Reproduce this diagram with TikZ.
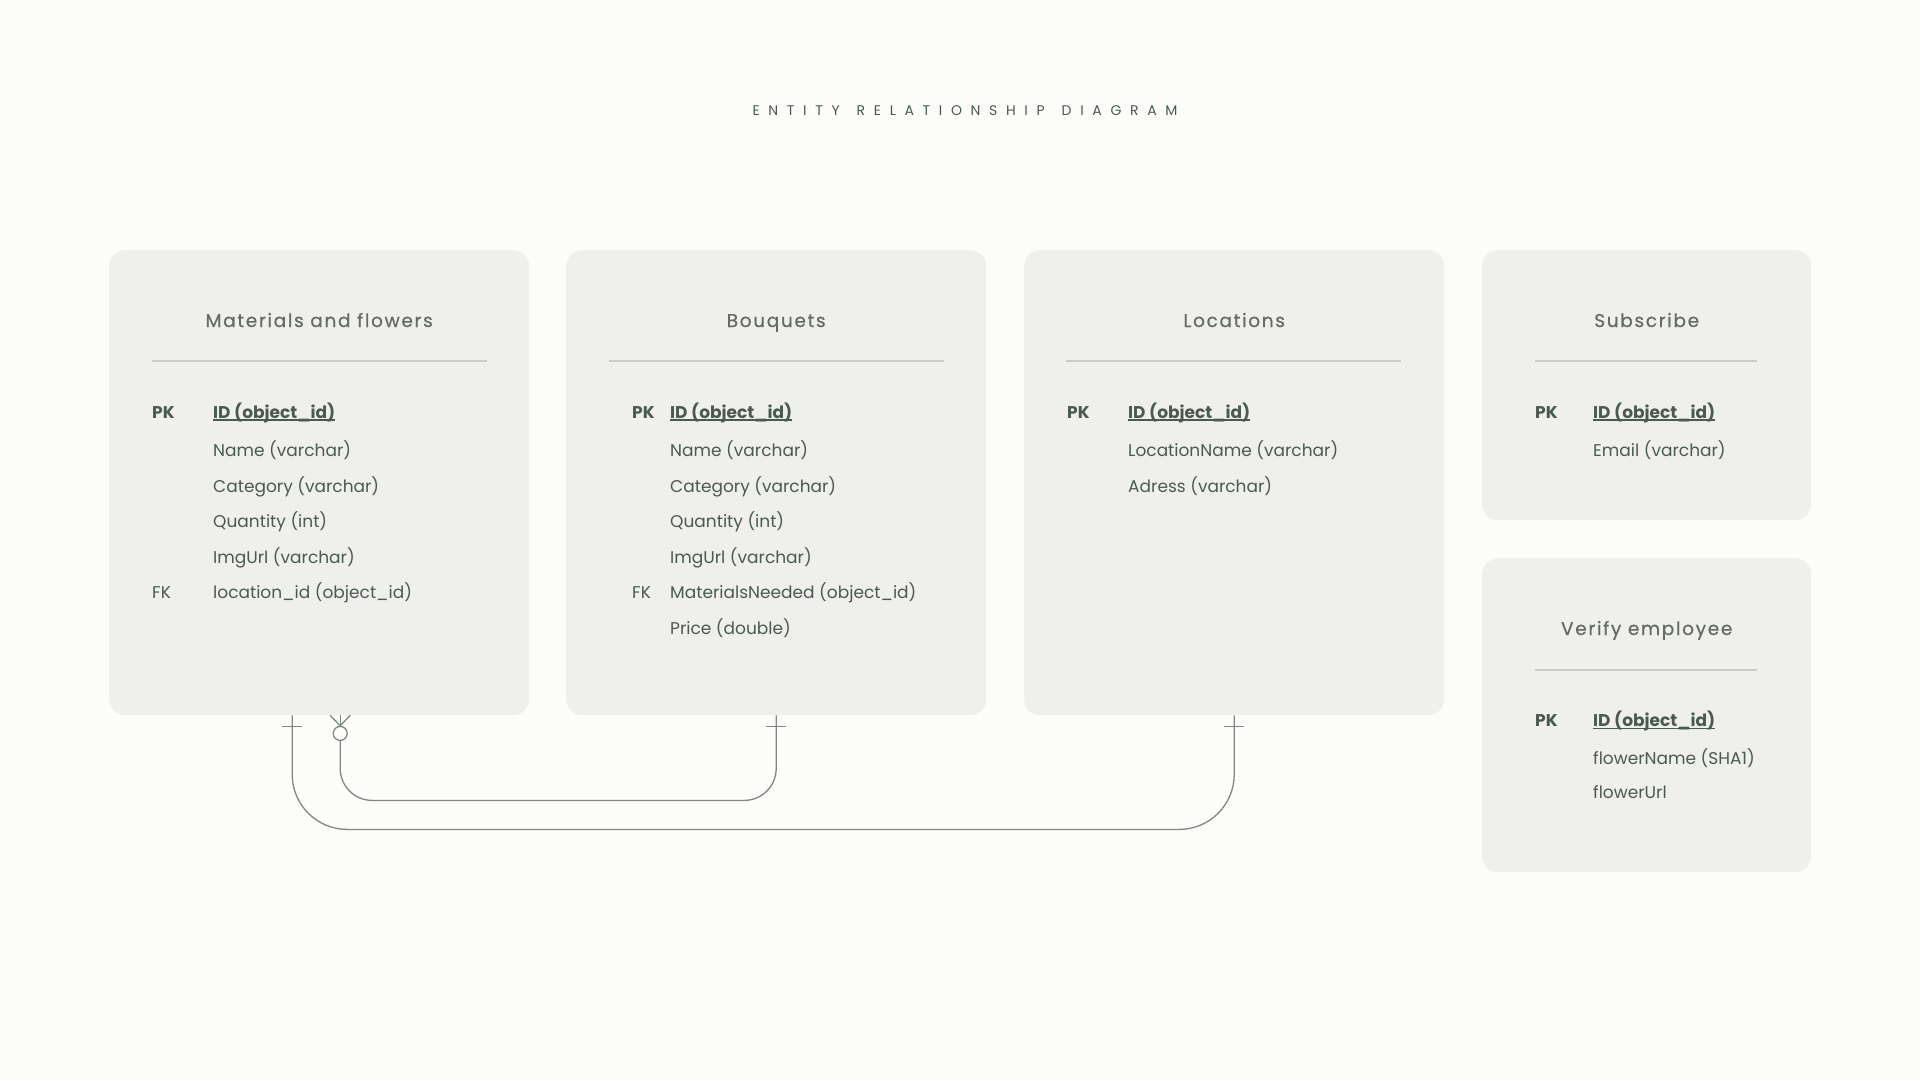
\documentclass[tikz,border=0pt]{standalone}
\usepackage{fontspec}
\setmainfont{Poppins}
\newfontfamily\titlefont[LetterSpace=62]{Poppins}
\newfontfamily\headfont[LetterSpace=9,FakeBold=0.6]{Poppins}
\usetikzlibrary{calc}
\definecolor{bg}{HTML}{FCFCF8}
\definecolor{boxfill}{HTML}{EFF0EB}
\definecolor{txt}{HTML}{4A5B4E}
\definecolor{hdr}{HTML}{656B65}
\definecolor{conn}{HTML}{7E8A81}
\definecolor{sepc}{HTML}{C9CCC6}
\newcommand\keyul[1]{\setbox0\hbox{#1}\rlap{\color{txt}\rule[-2.5pt]{\wd0}{1.3pt}}\box0}
\newcommand\tsp{\hspace{17pt}}
\begin{document}
\begin{tikzpicture}[x=1pt,y=-1pt,
  entity/.style={fill=boxfill, rounded corners=16pt, draw=none, inner sep=0pt, anchor=north west},
  hdrtext/.style={anchor=base, font=\headfont\fontsize{18.5}{22}\selectfont, text=hdr, inner sep=0pt},
  fld/.style={anchor=base west, font=\fontsize{17}{21}\selectfont, text=txt, inner sep=0pt},
  keytag/.style={anchor=base west, font=\bfseries\fontsize{17}{21}\selectfont, text=txt, inner sep=0pt},
  fktag/.style={anchor=base west, font=\fontsize{17}{21}\selectfont, text=txt, inner sep=0pt},
  sepline/.style={draw=sepc, line width=1.2pt},
  conn/.style={draw=conn, line width=1.3pt}
]
\fill[bg] (0,0) rectangle (1920,1080);
\useasboundingbox (0,0) rectangle (1920,1080);

\node[anchor=base, font=\titlefont\fontsize{14}{17}\selectfont, text=txt, inner sep=0pt] (title) at (965,115) {ENTITY\tsp RELATIONSHIP\tsp DIAGRAM};

% entity boxes
\node[entity, minimum width=420, minimum height=465] (mat) at (109,250) {};
\node[entity, minimum width=420, minimum height=465] (bq) at (566,250) {};
\node[entity, minimum width=420, minimum height=465] (loc) at (1024,250) {};
\node[entity, minimum width=329, minimum height=270] (sub) at (1482,250) {};
\node[entity, minimum width=329, minimum height=314] (ver) at (1482,558) {};

% headers
\node[hdrtext] (matH) at ($(mat.north)+(0,77)$) {Materials and flowers};
\node[hdrtext] (bqH) at ($(bq.north)+(0,77)$) {Bouquets};
\node[hdrtext] (locH) at ($(loc.north)+(0,77)$) {Locations};
\node[hdrtext] (subH) at ($(sub.north)+(0,77)$) {Subscribe};
\node[hdrtext] (verH) at ($(ver.north)+(0,77)$) {Verify employee};

% separators
\draw[sepline] ($(mat.north west)+(43,111)$) -- ($(mat.north east)+(-42,111)$);
\draw[sepline] ($(bq.north west)+(43,111)$) -- ($(bq.north east)+(-42,111)$);
\draw[sepline] ($(loc.north west)+(42,111)$) -- ($(loc.north east)+(-43,111)$);
\draw[sepline] ($(sub.north west)+(53,111)$) -- ($(sub.north east)+(-54,111)$);
\draw[sepline] ($(ver.north west)+(53,112)$) -- ($(ver.north east)+(-54,112)$);

% Materials and flowers
\node[keytag] (matPK) at (152,418) {PK};
\node[keytag] (matID) at (213,418) {\keyul{ID (object\_id)}};
\node[fld] (mat1) at (213,456.5) {Name (varchar)};
\node[fld] (mat2) at (213,492) {Category (varchar)};
\node[fld] (mat3) at (213,527.5) {Quantity (int)};
\node[fld] (mat4) at (213,563) {ImgUrl (varchar)};
\node[fktag] (matFK) at (152,598.5) {FK};
\node[fld] (mat5) at (213,598.5) {location\_id (object\_id)};

% Bouquets
\node[keytag] (bqPK) at (632,418) {PK};
\node[keytag] (bqID) at (670,418) {\keyul{ID (object\_id)}};
\node[fld] (bq1) at (670,456.5) {Name (varchar)};
\node[fld] (bq2) at (670,492) {Category (varchar)};
\node[fld] (bq3) at (670,527.5) {Quantity (int)};
\node[fld] (bq4) at (670,563) {ImgUrl (varchar)};
\node[fktag] (bqFK) at (632,598.5) {FK};
\node[fld] (bq5) at (670,598.5) {MaterialsNeeded (object\_id)};
\node[fld] (bq6) at (670,634) {Price (double)};

% Locations
\node[keytag] (locPK) at (1067,418) {PK};
\node[keytag] (locID) at (1128,418) {\keyul{ID (object\_id)}};
\node[fld] (loc1) at (1128,456.5) {LocationName (varchar)};
\node[fld] (loc2) at (1128,492) {Adress (varchar)};

% Subscribe
\node[keytag] (subPK) at (1535,418) {PK};
\node[keytag] (subID) at (1593,418) {\keyul{ID (object\_id)}};
\node[fld] (sub1) at (1593,456.5) {Email (varchar)};

% Verify employee
\node[keytag] (verPK) at (1535,726.5) {PK};
\node[keytag] (verID) at (1593,726.5) {\keyul{ID (object\_id)}};
\node[fld] (ver1) at (1593,764.5) {flowerName (SHA1)};
\node[fld] (ver2) at (1593,798.5) {flowerUrl};

% connectors
\coordinate (c1) at ($(mat.south)+(-27,0)$);
\coordinate (c2) at ($(mat.south)+(21,0)$);
\node[circle, draw=conn, line width=1.3pt, minimum size=14, inner sep=0pt] (cf) at ($(c2)+(0,18)$) {};

% Materials -- Locations (one to one)
\draw[conn, rounded corners=55pt] (c1) |- ($(loc.south)+(0,114)$) -- (loc.south);
\draw[conn] ($(c1)+(-10,11)$) -- ($(c1)+(10,11)$);
\draw[conn] ($(loc.south)+(-10,11)$) -- ($(loc.south)+(10,11)$);

% Materials -- Bouquets (zero or many to one)
\draw[conn, rounded corners=32pt] (cf.south) |- ($(bq.south)+(0,85)$) -- (bq.south);
\draw[conn] (c2) -- (cf.north);
\draw[conn] ($(c2)+(-10,0)$) -- (cf.north) -- ($(c2)+(10,0)$);
\draw[conn] ($(bq.south)+(-10,11)$) -- ($(bq.south)+(10,11)$);
\end{tikzpicture}
\end{document}
